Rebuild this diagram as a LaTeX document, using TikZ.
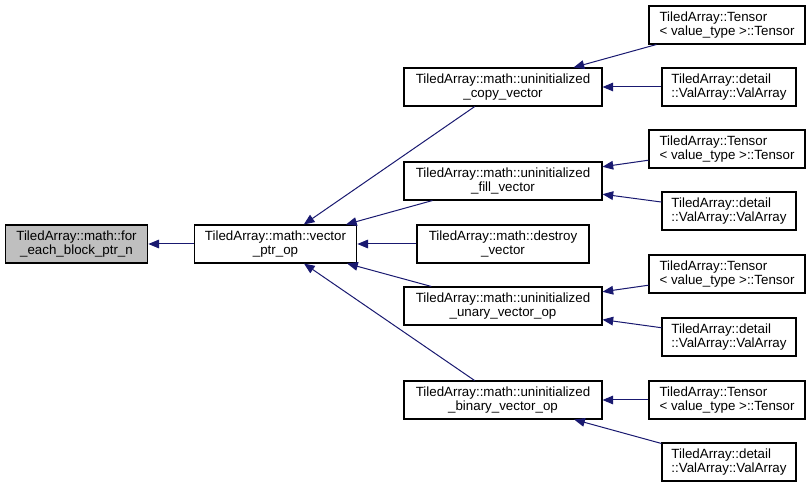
\documentclass[tikz,border=0pt]{standalone}
\usepackage{fontspec}
\setmainfont{Liberation Sans}
\usetikzlibrary{arrows.meta}

\begin{document}
\begin{tikzpicture}[x=0.75pt, y=-0.75pt,
    fn/.style={draw, thick, minimum height=28.5pt, inner sep=2pt,
        font=\fontsize{10}{10.5}\selectfont, align=center},
    leaf/.style={fn, align=left},
    edge/.style={draw=navyedge, line width=0.75pt, -{Triangle[length=8pt, width=6.5pt]}}]
    % Define colors
    \definecolor{navyedge}{RGB}{25, 25, 112}
    \definecolor{rootgray}{RGB}{191, 191, 191}

    \useasboundingbox (0,0) rectangle (811,488);

    % Root function and its direct caller
    \node[fn, fill=rootgray, minimum width=107pt] (root) at (76.5,244)
        {TiledArray::math::for\\\_each\_block\_ptr\_n};
    \node[fn, minimum width=122pt] (vecop) at (275.5,244)
        {TiledArray::math::vector\\\_ptr\_op};

    % Middle column
    \node[fn, minimum width=148.5pt] (copy) at (503,87)
        {TiledArray::math::uninitialized\\\_copy\_vector};
    \node[fn, minimum width=148.5pt] (fill) at (503,181)
        {TiledArray::math::uninitialized\\\_fill\_vector};
    \node[fn, minimum width=129pt] (destroy) at (503,244)
        {TiledArray::math::destroy\\\_vector};
    \node[fn, minimum width=148.5pt] (unary) at (503,306)
        {TiledArray::math::uninitialized\\\_unary\_vector\_op};
    \node[fn, minimum width=148.5pt] (binary) at (503,400)
        {TiledArray::math::uninitialized\\\_binary\_vector\_op};

    % Right column - constructors
    \node[leaf, minimum width=117pt] (tensorA) at (727,25)
        {TiledArray::Tensor\\< value\_type >::Tensor};
    \node[leaf, minimum width=100.5pt] (valA) at (729,87)
        {TiledArray::detail\\::ValArray::ValArray};
    \node[leaf, minimum width=117pt] (tensorB) at (727,149)
        {TiledArray::Tensor\\< value\_type >::Tensor};
    \node[leaf, minimum width=100.5pt] (valB) at (729,211)
        {TiledArray::detail\\::ValArray::ValArray};
    \node[leaf, minimum width=117pt] (tensorC) at (727,274)
        {TiledArray::Tensor\\< value\_type >::Tensor};
    \node[leaf, minimum width=100.5pt] (valC) at (729,337)
        {TiledArray::detail\\::ValArray::ValArray};
    \node[leaf, minimum width=117pt] (tensorD) at (727,400)
        {TiledArray::Tensor\\< value\_type >::Tensor};
    \node[leaf, minimum width=100.5pt] (valD) at (729,462)
        {TiledArray::detail\\::ValArray::ValArray};

    % Call edges (arrow points at the callee)
    \draw[edge] (vecop) -- (root);
    \draw[edge] (copy) -- (vecop);
    \draw[edge] (fill) -- (vecop);
    \draw[edge] (destroy) -- (vecop);
    \draw[edge] (unary) -- (vecop);
    \draw[edge] (binary) -- (vecop);

    \draw[edge] (tensorA) -- (copy);
    \draw[edge] (valA) -- (copy);
    \draw[edge] (tensorB) -- (fill);
    \draw[edge] (valB) -- (fill);
    \draw[edge] (tensorC) -- (unary);
    \draw[edge] (valC) -- (unary);
    \draw[edge] (tensorD) -- (binary);
    \draw[edge] (valD) -- (binary);

\end{tikzpicture}
\end{document}
